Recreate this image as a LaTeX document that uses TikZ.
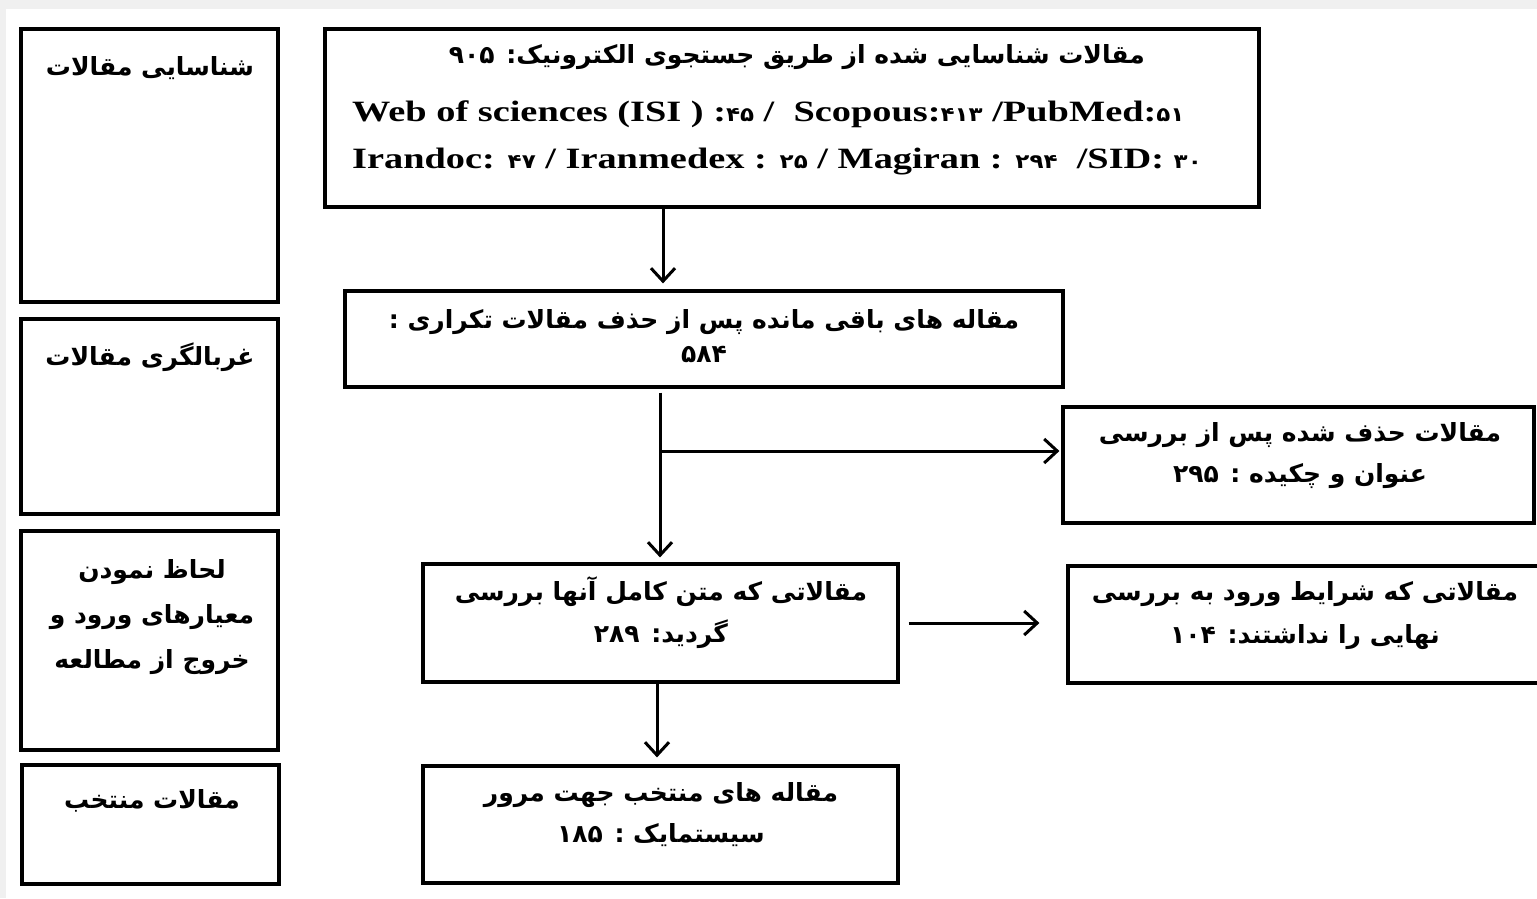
\documentclass[tikz,border=0pt]{standalone}
\usepackage{fontspec}
\usetikzlibrary{arrows.meta,calc}
\TeXXeTstate=1
\newfontfamily\fa[Script=Arabic]{DejaVu Sans}
\newfontfamily\tnr[FakeStretch=1.3]{Liberation Serif}
\newfontfamily\dig[FakeStretch=1.15]{DejaVu Sans}
\newcommand\rl[1]{\beginR #1\endR}
\newcommand\pd[1]{{\dig\fontsize{20}{20}\selectfont #1}}
\begin{document}
\begin{tikzpicture}[x=1pt,y=-1pt,
  box/.style={draw, line width=3.2pt, inner sep=0pt},
  fatxt/.style={inner sep=0pt, align=center, font=\fa\bfseries\fontsize{25}{42}\selectfont},
  lattxt/.style={inner sep=0pt, anchor=west, font=\tnr\bfseries\fontsize{29.5}{32}\selectfont},
  arr/.style={line width=3pt, -{Straight Barb[length=13pt,width=24pt,line width=3pt]}}]
% page background and white sheet
\fill[black!6] (0,0) rectangle (1537,898);
\fill[white] (6,9) rectangle (1537,898);
\useasboundingbox (0,0) rectangle (1537,898);

% stage boxes on the left
\node[box, minimum width=257pt, minimum height=273pt] (l1) at (149.5,165.5) {};
\node[box, minimum width=257pt, minimum height=195pt] (l2) at (149.5,416.5) {};
\node[box, minimum width=257pt, minimum height=219pt] (l3) at (149.5,640.5) {};
\node[box, minimum width=257pt, minimum height=119pt] (l4) at (150.5,824.5) {};
\node[fatxt] (l1t) at (150,68) {\rl{شناسایی مقالات}};
\node[fatxt] (l2t) at (150,357) {\rl{غربالگری مقالات}};
\node[fatxt, font=\fa\bfseries\fontsize{25}{45}\selectfont] (l3t) at (152,617) {\rl{لحاظ نمودن}\\\rl{معیارهای ورود و}\\\rl{خروج از مطالعه}};
\node[fatxt] (l4t) at (152,801) {\rl{مقالات منتخب}};

% flow boxes
\node[box, minimum width=934pt, minimum height=178pt] (top) at (792,118) {};
\node[fatxt] (topt) at (797,57) {\rl{مقالات شناسایی شده از طریق جستجوی الکترونیک: ۹۰۵}};
\node[lattxt] (topa) at (352,114) {Web of sciences (ISI ) :\pd{۴۵} /\ \ Scopous:\pd{۴۱۳} /PubMed:\pd{۵۱}};
\node[lattxt] (topb) at (352,162) {Irandoc: \pd{۴۷} / Iranmedex : \pd{۲۵} / Magiran : \pd{۲۹۴}\ \ /SID: \pd{۳۰}};

\node[box, minimum width=718pt, minimum height=96pt] (b584) at (704,339) {};
\node[fatxt, font=\fa\bfseries\fontsize{25}{34}\selectfont] (b584t) at (704,336) {\rl{مقاله های باقی مانده پس از حذف مقالات تکراری :}\\\rl{۵۸۴}};

\node[box, minimum width=471pt, minimum height=116pt] (b295) at (1298.5,465) {};
\node[fatxt, font=\fa\bfseries\fontsize{25}{41}\selectfont] (b295t) at (1300,456) {\rl{مقالات حذف شده پس از بررسی}\\\rl{عنوان و چکیده : ۲۹۵}};

\node[box, minimum width=475pt, minimum height=118pt] (b289) at (660.5,623) {};
\node[fatxt] (b289t) at (661,613) {\rl{مقالاتی که متن کامل آنها بررسی}\\\rl{گردید: ۲۸۹}};

\node[box, minimum width=476pt, minimum height=117pt] (b104) at (1306,624.5) {};
\node[fatxt, font=\fa\bfseries\fontsize{25}{43}\selectfont] (b104t) at (1305,616) {\rl{مقالاتی که شرایط ورود به بررسی}\\\rl{نهایی را نداشتند: ۱۰۴}};

\node[box, minimum width=475pt, minimum height=117pt] (b185) at (660.5,824.5) {};
\node[fatxt, font=\fa\bfseries\fontsize{25}{41}\selectfont] (b185t) at (661,815) {\rl{مقاله های منتخب جهت مرور}\\\rl{سیستمایک : ۱۸۵}};

% connectors
\coordinate (c1) at (663,0);
\coordinate (c2) at (660,451);
\draw[arr, shorten >=6pt] (c1 |- top.south) -- (c1 |- b584.north);
\draw[arr, shorten <=4pt, shorten >=5pt] (c2 |- b584.south) -- (c2 |- b289.north);
\draw[arr, shorten >=2pt] (c2) -- (c2 -| b295.west);
\draw[arr, shorten <=9pt, shorten >=27pt] (b289.east) -- (b289.east -| b104.west);
\draw[arr, shorten >=7pt] ([xshift=-3.5pt]b289.south) -- ([xshift=-3.5pt]b185.north);
\end{tikzpicture}
\end{document}
